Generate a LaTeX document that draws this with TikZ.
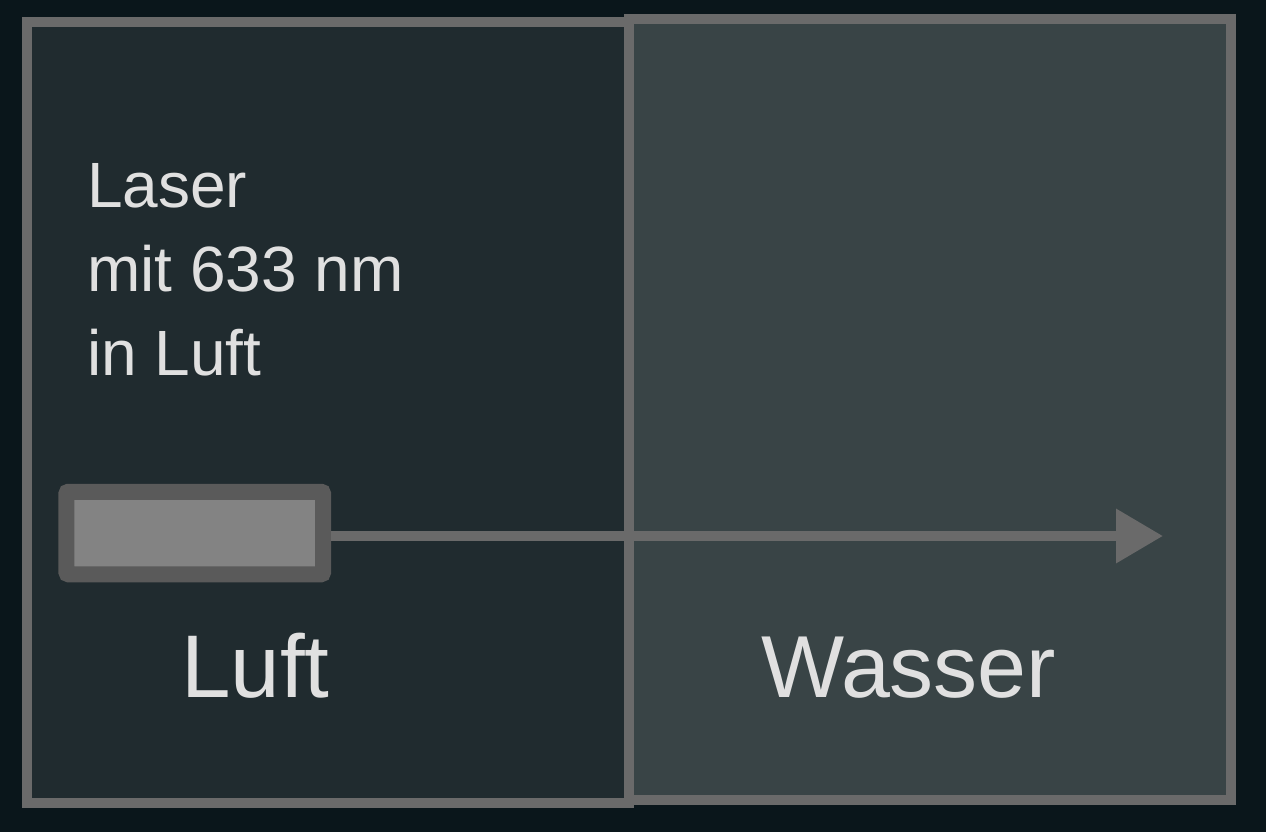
\documentclass[tikz,border=0pt]{standalone}
\usepackage{fontspec}
\setmainfont{Liberation Sans}
\usetikzlibrary{arrows.meta,positioning}
\definecolor{bgdark}{HTML}{0A161B}
\definecolor{airfill}{HTML}{202B2F}
\definecolor{waterfill}{HTML}{394446}
\definecolor{rimgray}{HTML}{6A6A6A}
\definecolor{lasergray}{HTML}{5A5A5A}
\definecolor{laserlight}{HTML}{838383}
\definecolor{textgray}{HTML}{E0E0E0}

\begin{document}
\begin{tikzpicture}[x=1bp,y=-1bp,
	medium/.style={draw=rimgray,line width=10bp},
	label/.style={text=textgray,inner sep=0pt,anchor=base west}]
	\fill[bgdark] (0,0) rectangle (1266,832);
	\useasboundingbox (0,0) rectangle (1266,832);
	% air and water
	\filldraw[medium,fill=airfill] (27,22) rectangle (629,803);
	\filldraw[medium,fill=waterfill] (629,19) rectangle (1231,800);
	\node[label,align=left,font=\fontsize{64bp}{84bp}\selectfont] (info) at (87,375) {Laser\\mit 633 nm\\in Luft};
	\node[label,font=\fontsize{89bp}{89bp}\selectfont] (air) at (181,697) {Luft};
	\node[label,font=\fontsize{88bp}{88bp}\selectfont] (water) at (761,697) {Wasser};
	% laser and beam
	\node[draw=lasergray,fill=laserlight,line width=16bp,rounded corners=2bp,
		minimum width=256.5bp,minimum height=82.5bp,inner sep=0pt] (laser) at (194.75,533) {};
	\coordinate (tip) at (1163,536);
	\draw[rimgray,line width=10bp,-{Triangle[length=47bp,width=52bp]}] (laser.east |- tip) -- (tip);
\end{tikzpicture}
\end{document}
